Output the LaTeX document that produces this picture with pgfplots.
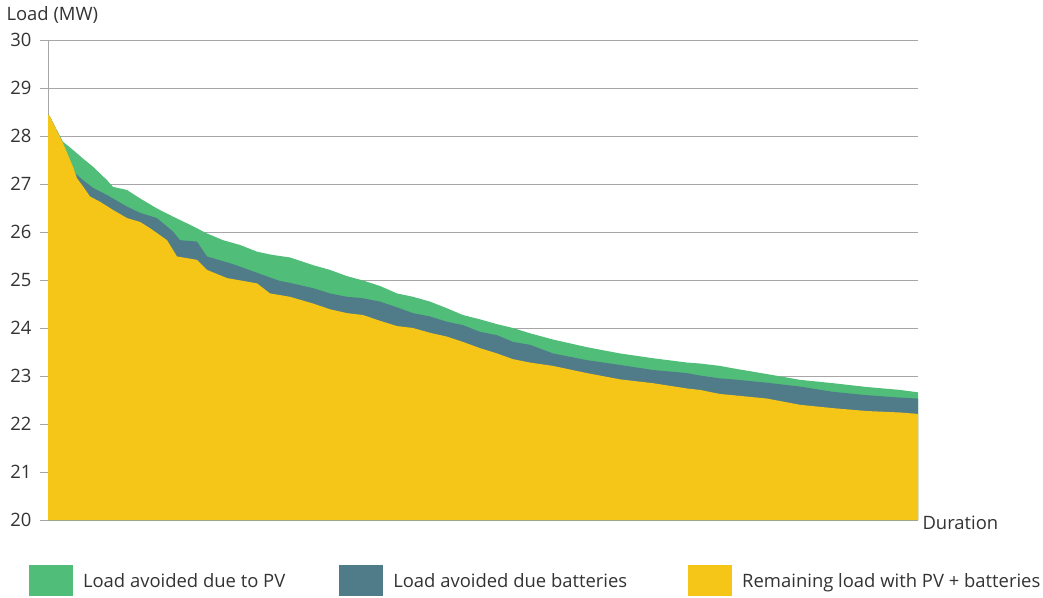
\documentclass[border=0pt]{standalone}
\usepackage{fontspec}
\setmainfont{Open Sans}
\usepackage{pgfplots}
\pgfplotsset{compat=1.18}
\definecolor{pvgreen}{HTML}{50BE78}
\definecolor{batblue}{HTML}{507C8A}
\definecolor{remyellow}{HTML}{F5C518}
\definecolor{gridgray}{HTML}{A6A6A6}
\definecolor{txt}{HTML}{333333}
\begin{document}
\begin{tikzpicture}
\begin{axis}[
  scale only axis,
  width=870bp, height=480bp,
  xmin=0, xmax=870, ymin=20, ymax=30,
  ytick={20,21,...,30},
  xtick=\empty,
  axis lines=left,
  axis line style={gridgray, line width=0.8bp, -},
  ymajorgrids,
  grid style={gridgray, line width=0.8bp},
  tick align=outside,
  major tick length=8bp,
  tick style={gridgray, line width=0.8bp},
  /pgf/number format/assume math mode=true,
  tick label style={font=\fontsize{18.5}{22}\selectfont, text=txt},
  yticklabel style={xshift=-5bp},
  ylabel={Load (MW)},
  xlabel={Duration},
  every axis y label/.style={at={(rel axis cs:0,1)}, anchor=base west, xshift=-45bp, yshift=19bp, font=\fontsize{18.5}{22}\selectfont, text=txt},
  every axis x label/.style={at={(rel axis cs:1,0)}, anchor=west, xshift=1bp, yshift=-3bp, font=\fontsize{18.5}{22}\selectfont, text=txt},
  legend columns=3,
  legend style={at={(rel axis cs:-0.022,-0.127)}, anchor=west, draw=none, fill=none, inner sep=0pt,
    font=\fontsize{18.5}{22}\selectfont, text=txt,
    /tikz/every odd column/.append style={column sep=8bp},
    /tikz/every even column/.append style={column sep=52bp}},
  legend cell align=left,
  legend image code/.code={\fill[#1] (0bp,-15.5bp) rectangle (44bp,15.5bp);},
]
\addplot[draw=none, fill=pvgreen] coordinates {
(0,28.45) (2,28.40) (15,27.88) (25,27.71) (35,27.53) (45,27.36) (59,27.08) (65,26.94)
(79,26.875) (92,26.70) (109,26.49) (125,26.32) (142,26.15) (159,25.97) (175,25.83)
(192,25.73) (209,25.59) (225,25.52) (242,25.47) (265,25.31) (282,25.21) (299,25.08)
(315,24.99) (332,24.875) (349,24.72) (365,24.65) (382,24.55) (399,24.41) (415,24.27)
(432,24.18) (449,24.08) (465,24.00) (482,23.89) (505,23.76) (539,23.60) (572,23.47)
(605,23.37) (639,23.28) (652,23.26) (672,23.21) (685,23.16) (719,23.04) (752,22.92)
(785,22.85) (819,22.77) (852,22.71) (870,22.66)
} \closedcycle;
\addlegendentry{Load avoided due to PV}
\addplot[draw=none, fill=batblue] coordinates {
(0,28.45) (2,28.40) (12,27.96) (27,27.23) (35,27.08) (45,26.92) (59,26.77) (79,26.53)
(92,26.40) (109,26.29) (125,26.01) (132,25.83) (149,25.80) (159,25.49) (182,25.35)
(192,25.28) (209,25.15) (225,25.03) (232,24.98) (242,24.94) (265,24.83) (282,24.72)
(299,24.65) (315,24.62) (332,24.55) (349,24.43) (365,24.31) (382,24.24) (399,24.13)
(415,24.06) (432,23.92) (449,23.85) (465,23.71) (482,23.65) (505,23.47) (539,23.33)
(572,23.23) (605,23.125) (639,23.06) (652,23.01) (672,22.95) (685,22.93) (719,22.86)
(752,22.78) (785,22.67) (819,22.60) (852,22.55) (870,22.53)
} \closedcycle;
\addlegendentry{Load avoided due batteries\rule{7bp}{0pt}}
\addplot[draw=none, fill=remyellow] coordinates {
(0,28.45) (2,28.40) (15,27.85) (25,27.36) (29,27.12) (35,26.95) (42,26.74) (52,26.63)
(65,26.46) (79,26.29) (92,26.21) (102,26.08) (119,25.83) (129,25.49) (149,25.42)
(159,25.21) (179,25.04) (209,24.93) (222,24.72) (242,24.65) (265,24.51) (282,24.39)
(299,24.31) (315,24.27) (332,24.15) (349,24.04) (365,24.00) (382,23.90) (399,23.82)
(415,23.71) (432,23.58) (449,23.47) (465,23.35) (482,23.28) (505,23.21) (539,23.06)
(572,22.93) (605,22.85) (639,22.74) (652,22.71) (672,22.625) (685,22.60) (719,22.53)
(752,22.40) (785,22.33) (819,22.27) (852,22.24) (870,22.21)
} \closedcycle;
\addlegendentry{Remaining load with PV + batteries}
\coordinate (O) at (rel axis cs:0,0);
\end{axis}
\pgfresetboundingbox
\path[use as bounding box] ([shift={(-48bp,-78bp)}]O) rectangle ([shift={(995bp,520bp)}]O);
\end{tikzpicture}
\end{document}
